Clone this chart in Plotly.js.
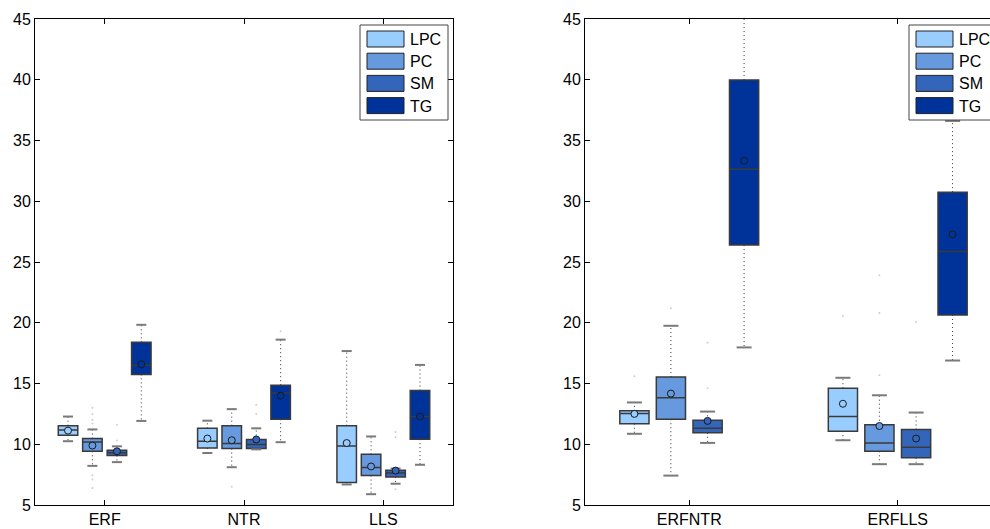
<!DOCTYPE html>
<html>
<head>
<meta charset="utf-8">
<script src="https://cdn.plot.ly/plotly-3.0.1.min.js"></script>
<style>
html,body{margin:0;padding:0;overflow:hidden;background:#fff;}
#chart{width:1010px;height:529px;}
</style>
</head>
<body>
<div id="chart"></div>
<script>
// ---------- DATA ----------
const series = ['LPC', 'PC', 'SM', 'TG'];
const seriesColors = ['#99CCFF', '#6699DD', '#3366BB', '#003399'];

// left panel
const leftCategories = ['ERF', 'NTR', 'LLS'];
// arrays indexed [series][category]
const leftLowerWhisker = [[10.25, 9.28, 6.69], [8.22, 8.11, 5.89], [8.53, 9.58, 6.75], [11.92, 10.17, 8.31]];
const leftQ1 = [[10.75, 9.69, 6.86], [9.42, 9.64, 7.42], [9.08, 9.64, 7.31], [15.75, 12.06, 10.42]];
const leftMedian = [[11.17, 10.25, 9.86], [10.19, 10.06, 8.08], [9.31, 9.97, 7.64], [16.5, 14.22, 12.28]];
const leftQ3 = [[11.53, 11.31, 11.53], [10.47, 11.53, 9.17], [9.5, 10.39, 7.86], [18.39, 14.86, 14.42]];
const leftUpperWhisker = [[12.28, 11.94, 17.67], [11.22, 12.89, 10.64], [9.83, 11.31, 8.0], [19.83, 18.61, 16.53]];
const leftMean = [[11.12, 10.47, 10.1], [9.89, 10.33, 8.17], [9.42, 10.39, 7.83], [16.58, 14.0, 12.28]];
const leftOutliers = [
  [[], [], []],
  [[13.0, 12.5, 12.0, 11.7, 7.45, 7.1, 6.4], [6.5], []],
  [[11.6, 10.3], [13.25, 12.5], [11.0, 10.6, 6.3]],
  [[], [19.3], []]
];

// right panel
const rightCategories = ['ERFNTR', 'ERFLLS'];
const rightLowerWhisker = [[10.86, 10.33], [7.42, 8.36], [10.11, 8.36], [17.97, 16.89]];
const rightQ1 = [[11.69, 11.08], [12.06, 9.42], [10.94, 8.89], [26.39, 20.64]];
const rightMedian = [[12.53, 12.28], [13.83, 10.11], [11.31, 9.75], [32.64, 25.86]];
const rightQ3 = [[12.75, 14.61], [15.53, 11.61], [11.97, 11.22], [39.97, 30.75]];
const rightUpperWhisker = [[13.44, 15.47], [19.75, 14.03], [12.69, 12.61], [46.5, 36.61]];
const rightMean = [[12.5, 13.33], [14.17, 11.5], [11.92, 10.47], [33.33, 27.28]];
const rightOutliers = [
  [[15.6], [20.56]],
  [[21.2], [23.9, 20.8, 15.67]],
  [[18.35, 14.6], [20.06]],
  [[], []]
];

const yTicks = [5, 10, 15, 20, 25, 30, 35, 40, 45];

// ---------- STYLE / LAYOUT CONSTANTS ----------
const W = 1010, H = 529;
const FONT = 'Liberation Sans, Arial, Helvetica, sans-serif';
const offsets = [-0.263, -0.088, 0.088, 0.263];
const boxWidth = 0.14;
const capHalf = 0.036;
const outlineColor = '#3a3a3a';

const traces = [];

function addPanel(xa, ya, cats, lw, q1, med, q3, uw, mean, outl) {
  series.forEach((name, s) => {
    const xs = cats.map((c, i) => i + 1 + offsets[s]);
    traces.push({
      type: 'box', name: name, xaxis: xa, yaxis: ya, showlegend: false,
      x: xs, q1: q1[s], median: med[s], q3: q3[s],
      lowerfence: q1[s], upperfence: q3[s],
      width: boxWidth, whiskerwidth: 0,
      fillcolor: seriesColors[s],
      line: {color: outlineColor, width: 1.5},
      hoverinfo: 'skip'
    });
    const wx = [], wy = [];
    xs.forEach((x, i) => {
      wx.push(x, x, null, x, x, null);
      wy.push(q3[s][i], uw[s][i], null, q1[s][i], lw[s][i], null);
    });
    traces.push({
      type: 'scatter', mode: 'lines', xaxis: xa, yaxis: ya, showlegend: false,
      x: wx, y: wy, line: {color: '#333333', width: 1, dash: '1px,3px'},
      hoverinfo: 'skip'
    });
    const cx = [], cy = [];
    xs.forEach((x, i) => {
      cx.push(x - capHalf, x + capHalf, null, x - capHalf, x + capHalf, null);
      cy.push(uw[s][i], uw[s][i], null, lw[s][i], lw[s][i], null);
    });
    traces.push({
      type: 'scatter', mode: 'lines', xaxis: xa, yaxis: ya, showlegend: false,
      x: cx, y: cy, line: {color: '#7a7a7a', width: 2},
      hoverinfo: 'skip'
    });
    const ox = [], oy = [];
    xs.forEach((x, i) => {
      outl[s][i].forEach(v => { ox.push(x); oy.push(v); });
    });
    traces.push({
      type: 'scatter', mode: 'markers', xaxis: xa, yaxis: ya, showlegend: false,
      x: ox, y: oy, marker: {color: '#cfcfcf', size: 2},
      hoverinfo: 'skip'
    });
    traces.push({
      type: 'scatter', mode: 'markers', xaxis: xa, yaxis: ya, showlegend: false,
      x: xs, y: mean[s],
      marker: {symbol: 'circle', size: 7, color: seriesColors[s], line: {color: '#1a1a1a', width: 1}},
      hoverinfo: 'skip'
    });
  });
}

addPanel('x', 'y', leftCategories, leftLowerWhisker, leftQ1, leftMedian, leftQ3, leftUpperWhisker, leftMean, leftOutliers);
addPanel('x2', 'y2', rightCategories, rightLowerWhisker, rightQ1, rightMedian, rightQ3, rightUpperWhisker, rightMean, rightOutliers);

const plotTop = 19, plotBottom = 505;
const px = v => v / W;
const py = v => (plotBottom - v) / (plotBottom - plotTop);

function axisX(domain, cats) {
  return {
    domain: domain, range: [0.5, cats.length + 0.5],
    tickmode: 'array', tickvals: cats.map((c, i) => i + 1), ticktext: cats,
    ticks: 'inside', ticklen: 5, tickcolor: '#000', tickwidth: 1,
    showline: true, linecolor: '#000', linewidth: 1, mirror: 'ticks',
    showgrid: false, zeroline: false, fixedrange: true,
    tickfont: {family: FONT, size: 16, color: '#000'}
  };
}
function axisY(anchor) {
  return {
    anchor: anchor, domain: [0, 1], range: [5, 45],
    tickmode: 'array', tickvals: yTicks, ticktext: yTicks.map(String),
    ticks: 'inside', ticklen: 5, tickcolor: '#000', tickwidth: 1,
    showline: true, linecolor: '#000', linewidth: 1, mirror: 'ticks',
    showgrid: false, zeroline: false, fixedrange: true,
    tickfont: {family: FONT, size: 16, color: '#000'}
  };
}

const shapes = [], annotations = [];
function addLegend(left) {
  shapes.push({type: 'rect', xref: 'paper', yref: 'paper',
    x0: px(left), x1: px(left + 88), y0: py(25), y1: py(120),
    line: {color: '#444', width: 1}, fillcolor: '#fff', layer: 'above'});
  series.forEach((name, s) => {
    const top = 31 + s * 22.2;
    shapes.push({type: 'rect', xref: 'paper', yref: 'paper',
      x0: px(left + 7), x1: px(left + 44), y0: py(top), y1: py(top + 16),
      line: {color: '#222', width: 1}, fillcolor: seriesColors[s], layer: 'above'});
    annotations.push({xref: 'paper', yref: 'paper', x: px(left + 48), y: py(top + 8.5),
      xanchor: 'left', yanchor: 'middle', showarrow: false, text: name,
      font: {family: FONT, size: 16, color: '#000'}});
  });
}
addLegend(360);
addLegend(909);

const layout = {
  width: W, height: H,
  margin: {l: 0, r: 0, t: plotTop, b: H - plotBottom, pad: 0},
  paper_bgcolor: '#fff', plot_bgcolor: '#fff',
  showlegend: false, boxmode: 'overlay',
  xaxis: axisX([px(35), px(453)], leftCategories),
  yaxis: axisY('x'),
  xaxis2: axisX([px(585), px(1002)], rightCategories),
  yaxis2: axisY('x2'),
  shapes: shapes, annotations: annotations,
  font: {family: FONT}
};

Plotly.newPlot('chart', traces, layout, {staticPlot: true, displayModeBar: false});
</script>
</body>
</html>
